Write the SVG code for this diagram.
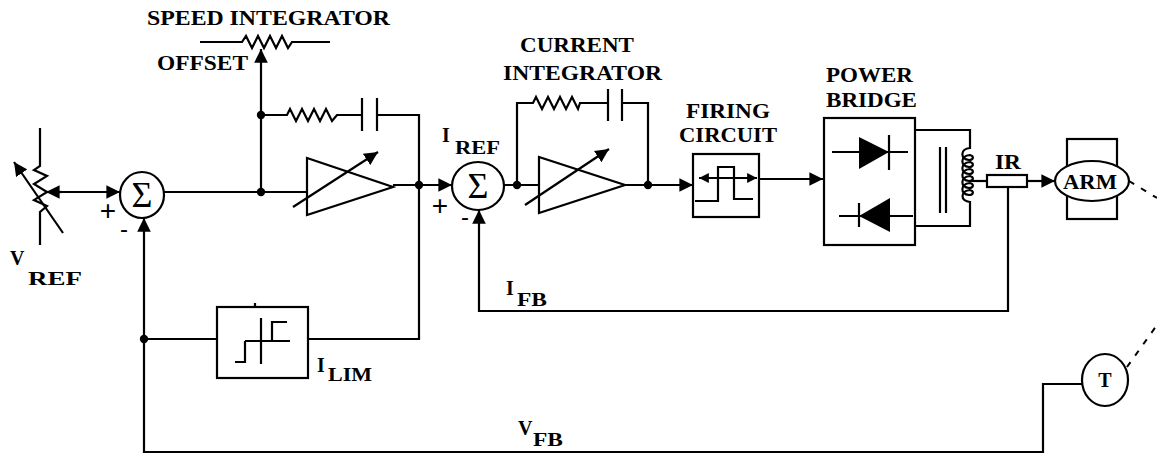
<svg xmlns="http://www.w3.org/2000/svg" width="1157" height="454" viewBox="0 0 1157 454">
<style>
.ln{stroke:#000;stroke-width:2.2;fill:none}
.fl{fill:#000;stroke:none}
.wh{fill:#fff;stroke:#000;stroke-width:2.2}
.t{font-family:"Liberation Serif","Times New Roman",serif;font-weight:bold;font-size:20px;fill:#000}
.s{font-family:"Liberation Serif","Times New Roman",serif;font-weight:bold;font-size:19px;fill:#000}
.sig{font-family:"Liberation Sans",Arial,sans-serif;fill:#000}
.dash{stroke:#000;stroke-width:2;fill:none;stroke-dasharray:6,8}
</style>
<defs>
<marker id="ah" viewBox="0 0 10 10" refX="10" refY="5" markerWidth="6.2" markerHeight="6.2" orient="auto-start-reverse" markerUnits="strokeWidth"><path d="M0,0 L10,5 L0,10 z" fill="#000"/></marker>
<marker id="as" viewBox="0 0 10 10" refX="10" refY="5" markerWidth="4.5" markerHeight="4.5" orient="auto-start-reverse" markerUnits="strokeWidth"><path d="M0,0 L10,5 L0,10 z" fill="#000"/></marker>
</defs>
<rect width="1157" height="454" fill="#fff"/>

<g id="connectors">
<line class="ln" x1="62" y1="192" x2="120" y2="192" marker-end="url(#ah)"/>
<line class="ln" x1="164" y1="192" x2="307" y2="192"/>
<line class="ln" x1="261" y1="192" x2="261" y2="49" marker-end="url(#ah)"/>
<path class="ln" d="M261,115 H287 L290,109 L296,121 L302,109 L308,121 L314,109 L320,121 L326,109 L332,121 L337,115 H362"/>
<path class="ln" d="M377,115 H419 V339 H308"/>
<line class="ln" x1="393" y1="185" x2="452" y2="185" marker-end="url(#ah)"/>
<line class="ln" x1="144" y1="339" x2="217" y2="339"/>
<path class="ln" d="M1082,384 H1043 V452 H144 V218" marker-end="url(#ah)"/>
<line class="ln" x1="504" y1="185" x2="539" y2="185"/>
<path class="ln" d="M517,185 V103 H533 L536,97 L542,109 L548,97 L554,109 L560,97 L566,109 L572,97 L578,109 L580,103 H608"/>
<path class="ln" d="M622,103 H648 V185"/>
<line class="ln" x1="625" y1="185" x2="693" y2="185" marker-end="url(#ah)"/>
<line class="ln" x1="759" y1="179" x2="823" y2="179" marker-end="url(#ah)"/>
<path class="ln" d="M915,130 H970 V148 c-10,1 -10,11 -1,12 c5,0 5,-4 1,-5 c-10,1 -10,11 -1,12 c5,0 5,-4 1,-5 c-10,1 -10,11 -1,12 c5,0 5,-4 1,-5 c-10,1 -10,11 -1,12 c5,0 5,-4 1,-5 c-10,1 -10,11 -1,12 c5,0 5,-4 1,-5 c-10,1 -10,11 -1,12 c5,0 5,-4 1,-5 c-10,1 -10,11 0,12 V226 H915"/>
<line class="ln" x1="970" y1="181" x2="987" y2="181"/>
<line class="ln" x1="1027" y1="181" x2="1055" y2="181" marker-end="url(#ah)"/>
<path class="ln" d="M1008,187 V311 H479 V210" marker-end="url(#ah)"/>
<line class="dash" x1="1129" y1="181" x2="1157" y2="198"/>
<line class="dash" x1="1127" y1="367" x2="1157" y2="325"/>
<circle class="fl" cx="261" cy="192" r="4.2"/>
<circle class="fl" cx="261" cy="115" r="4.2"/>
<circle class="fl" cx="419" cy="185" r="4.2"/>
<circle class="fl" cx="144" cy="339" r="4.2"/>
<circle class="fl" cx="517" cy="185" r="4.2"/>
<circle class="fl" cx="648" cy="185" r="4.2"/>
</g>

<g id="vref-pot">
<path class="ln" d="M40,128 V166 L34,170 L47,176 L34,184 L47,192 L34,200 L47,206 L40,212 V245"/>
<line class="ln" x1="63" y1="233" x2="14" y2="162" marker-end="url(#ah)"/>
<line class="ln" x1="62" y1="192" x2="46" y2="192" marker-end="url(#ah)"/>
<text class="t" x="10" y="265" font-size="22">V</text>
<text class="s" x="28" y="285" textLength="54" lengthAdjust="spacingAndGlyphs">REF</text>
</g>

<g id="sum1">
<ellipse class="ln" cx="142" cy="195" rx="22" ry="23"/>
<text x="142" y="207" text-anchor="middle" font-family="Liberation Serif,serif" font-size="36">Σ</text>
<text class="sig" x="108" y="220" text-anchor="middle" font-size="28">+</text>
<text class="sig" x="124" y="237" text-anchor="middle" font-size="24">-</text>
</g>

<g id="speed-offset">
<path class="ln" d="M200,42 H242 L246,36 L252,48 L258,36 L264,48 L270,36 L276,48 L282,36 L288,48 L292,42 H330"/>
<text class="t" x="147" y="25" textLength="243" lengthAdjust="spacingAndGlyphs">SPEED INTEGRATOR</text>
<text class="t" x="157" y="70" textLength="91" lengthAdjust="spacingAndGlyphs">OFFSET</text>
</g>

<g id="speed-integrator">
<line class="ln" x1="362" y1="98" x2="362" y2="131"/>
<line class="ln" x1="377" y1="98" x2="377" y2="131"/>
<polygon class="ln" points="307,158 307,215 393,187"/>
<line class="ln" x1="293" y1="207" x2="378" y2="152" marker-end="url(#ah)"/>
</g>

<g id="ilim">
<rect class="ln" x="217" y="307" width="91" height="71"/>
<line class="ln" x1="255" y1="303" x2="255" y2="307"/>
<line class="ln" x1="261" y1="318" x2="261" y2="364"/>
<line class="ln" x1="245" y1="341" x2="290" y2="341"/>
<path class="ln" d="M235,362 H245 V341"/>
<path class="ln" d="M272,341 V322 H287"/>
<text class="t" x="317" y="372">I</text>
<text class="s" x="328" y="381" textLength="44" lengthAdjust="spacingAndGlyphs">LIM</text>
</g>

<g id="sum2">
<ellipse class="ln" cx="478" cy="186" rx="26" ry="24"/>
<text x="478" y="198" text-anchor="middle" font-family="Liberation Serif,serif" font-size="36">Σ</text>
<text class="sig" x="440" y="215" text-anchor="middle" font-size="28">+</text>
<text class="sig" x="465" y="225" text-anchor="middle" font-size="24">-</text>
<text class="t" x="442" y="142">I</text>
<text class="s" x="455" y="154" textLength="45" lengthAdjust="spacingAndGlyphs">REF</text>
</g>

<g id="current-integrator">
<line class="ln" x1="608" y1="89" x2="608" y2="121"/>
<line class="ln" x1="622" y1="89" x2="622" y2="121"/>
<polygon class="ln" points="539,157 539,213 625,185"/>
<line class="ln" x1="525" y1="205" x2="609" y2="149" marker-end="url(#ah)"/>
<text class="t" x="520" y="52" textLength="114" lengthAdjust="spacingAndGlyphs">CURRENT</text>
<text class="t" x="503" y="80" textLength="159" lengthAdjust="spacingAndGlyphs">INTEGRATOR</text>
</g>

<g id="ifb-label">
<text class="t" x="506" y="295">I</text>
<text class="s" x="517" y="306" textLength="30" lengthAdjust="spacingAndGlyphs">FB</text>
</g>

<g id="firing-circuit">
<rect class="ln" x="693" y="154" width="66" height="63"/>
<line class="ln" x1="699" y1="178" x2="757" y2="178" marker-start="url(#as)" marker-end="url(#as)"/>
<path class="ln" d="M695,201 H718 V167 H734 V199 H753"/>
<text class="t" x="686" y="118" textLength="84" lengthAdjust="spacingAndGlyphs">FIRING</text>
<text class="t" x="679" y="142" textLength="98" lengthAdjust="spacingAndGlyphs">CIRCUIT</text>
</g>

<g id="power-bridge">
<rect class="ln" x="824" y="118" width="91" height="127"/>
<line class="ln" x1="832" y1="152" x2="908" y2="152"/>
<polygon class="fl" points="859,137 859,169 889,152"/>
<line class="ln" x1="889" y1="135" x2="889" y2="170"/>
<line class="ln" x1="839" y1="216" x2="913" y2="216"/>
<polygon class="fl" points="890,198 890,232 859,216"/>
<line class="ln" x1="859" y1="203" x2="859" y2="227"/>
<text class="t" x="826" y="82" textLength="87" lengthAdjust="spacingAndGlyphs">POWER</text>
<text class="t" x="826" y="107" textLength="91" lengthAdjust="spacingAndGlyphs">BRIDGE</text>
</g>

<g id="transformer">
<line class="ln" x1="940" y1="147" x2="940" y2="213"/>
<line class="ln" x1="946" y1="147" x2="946" y2="213"/>
</g>

<g id="ir">
<rect class="ln" x="987" y="175" width="40" height="12"/>
<text class="t" x="995" y="169" textLength="26" lengthAdjust="spacingAndGlyphs">IR</text>
</g>

<g id="arm">
<rect class="ln" x="1067" y="139" width="50" height="80"/>
<ellipse class="wh" cx="1092" cy="181" rx="37" ry="20"/>
<text class="t" x="1063" y="189" textLength="54" lengthAdjust="spacingAndGlyphs">ARM</text>
</g>

<g id="tacho">
<ellipse class="ln" cx="1105" cy="380" rx="23" ry="26"/>
<text class="t" x="1105" y="387" text-anchor="middle">T</text>
</g>

<g id="vfb-label">
<text class="t" x="518" y="435">V</text>
<text class="s" x="533" y="446" textLength="30" lengthAdjust="spacingAndGlyphs">FB</text>
</g>
</svg>
